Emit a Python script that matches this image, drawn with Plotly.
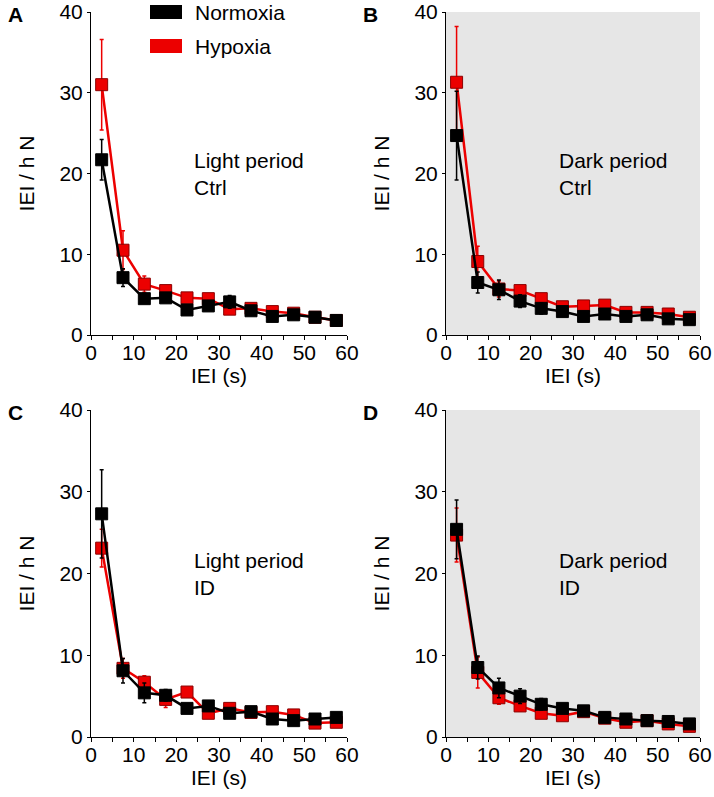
import plotly.graph_objects as go

# ---------------- data ----------------
iei = [2.5, 7.5, 12.5, 17.5, 22.5, 27.5, 32.5, 37.5, 42.5, 47.5, 52.5, 57.5]

# Panel A: Light period, Ctrl
a_norm = [21.7, 7.1, 4.5, 4.6, 3.1, 3.6, 4.1, 3.0, 2.3, 2.5, 2.2, 1.8]
a_norm_err = [2.5, 1.1, 0.5, 0.4, 0.4, 0.4, 0.8, 0.4, 0.3, 0.3, 0.2, 0.2]
a_hyp = [31.0, 10.5, 6.3, 5.5, 4.6, 4.5, 3.2, 3.3, 2.9, 2.7, 2.2, 1.8]
a_hyp_err = [5.6, 2.4, 1.0, 0.5, 0.4, 0.4, 0.4, 0.3, 0.3, 0.3, 0.2, 0.2]

# Panel B: Dark period, Ctrl
b_norm = [24.7, 6.5, 5.6, 4.2, 3.3, 2.9, 2.3, 2.6, 2.3, 2.5, 2.0, 1.9]
b_norm_err = [5.5, 1.3, 1.2, 0.8, 0.7, 0.5, 0.4, 0.4, 0.3, 0.3, 0.3, 0.2]
b_hyp = [31.3, 9.1, 5.7, 5.5, 4.5, 3.5, 3.6, 3.7, 2.8, 2.8, 2.6, 2.2]
b_hyp_err = [6.9, 1.9, 1.0, 0.5, 0.4, 0.4, 0.4, 0.4, 0.3, 0.3, 0.3, 0.2]

# Panel C: Light period, ID
c_norm = [27.3, 8.1, 5.4, 5.1, 3.5, 3.8, 2.9, 3.1, 2.2, 2.0, 2.2, 2.4]
c_norm_err = [5.4, 1.5, 1.2, 0.7, 0.4, 0.4, 0.4, 0.4, 0.3, 0.3, 0.3, 0.3]
c_hyp = [23.1, 8.4, 6.7, 4.6, 5.5, 2.9, 3.5, 3.0, 3.1, 2.7, 1.7, 1.8]
c_hyp_err = [2.3, 1.2, 0.8, 1.0, 0.4, 0.4, 0.4, 0.3, 0.3, 0.3, 0.2, 0.2]

# Panel D: Dark period, ID
d_norm = [25.4, 8.5, 6.0, 5.0, 4.0, 3.5, 3.2, 2.4, 2.2, 2.0, 1.9, 1.6]
d_norm_err = [3.6, 1.4, 1.2, 0.9, 0.7, 0.4, 0.3, 0.3, 0.2, 0.2, 0.2, 0.2]
d_hyp = [24.7, 7.9, 4.8, 3.8, 2.9, 2.6, 3.1, 2.3, 1.8, 2.0, 1.6, 1.3]
d_hyp_err = [3.3, 1.9, 0.8, 0.6, 0.4, 0.3, 0.3, 0.2, 0.2, 0.2, 0.2, 0.2]

panel_letters = ["A", "B", "C", "D"]
panel_text = ["Light period<br>Ctrl", "Dark period<br>Ctrl",
              "Light period<br>ID", "Dark period<br>ID"]
series_names = ["Normoxia", "Hypoxia"]
x_ticks = [0, 10, 20, 30, 40, 50, 60]
y_ticks = [0, 10, 20, 30, 40]

# ---------------- style ----------------
W, H = 714, 797
FONT = "Liberation Sans, Arial, sans-serif"
FS = 21
RED = "rgb(236,0,0)"
RED_EDGE = "rgb(140,0,0)"
BLACK = "rgb(0,0,0)"
GREY = "rgb(230,230,230)"

# pixel geometry of each plot area: (x0, x1, ytop, ybottom)
boxes = [(91, 347, 12, 335), (446, 700, 12, 335),
         (91, 347, 410, 737), (446, 700, 410, 737)]
grey_bg = [False, True, False, True]
text_x = [23.6, 26.3, 23.6, 26.3]

data = [
    (a_norm, a_norm_err, a_hyp, a_hyp_err),
    (b_norm, b_norm_err, b_hyp, b_hyp_err),
    (c_norm, c_norm_err, c_hyp, c_hyp_err),
    (d_norm, d_norm_err, d_hyp, d_hyp_err),
]

fig = go.Figure()
layout = dict(
    width=W, height=H,
    margin=dict(l=0, r=0, t=0, b=0, autoexpand=False),
    paper_bgcolor="white", plot_bgcolor="rgba(0,0,0,0)",
    showlegend=False,
    font=dict(family=FONT, size=FS, color="black"),
)
shapes = []
annotations = []

for i, (x0, x1, yt, yb) in enumerate(boxes):
    n = i + 1
    xs = "x" if n == 1 else f"x{n}"
    ys = "y" if n == 1 else f"y{n}"
    xk = "xaxis" if n == 1 else f"xaxis{n}"
    yk = "yaxis" if n == 1 else f"yaxis{n}"
    norm, norm_err, hyp, hyp_err = data[i]

    # Hypoxia first so Normoxia is drawn on top
    fig.add_trace(go.Scatter(
        x=iei, y=hyp, mode="lines+markers", name=series_names[1],
        xaxis=xs, yaxis=ys, cliponaxis=False,
        line=dict(color=RED, width=2.5),
        marker=dict(symbol="square", size=12, color=RED,
                    line=dict(color=RED_EDGE, width=1)),
        error_y=dict(type="data", array=hyp_err, visible=True,
                     color=RED, thickness=1.5, width=2),
    ))
    fig.add_trace(go.Scatter(
        x=iei, y=norm, mode="lines+markers", name=series_names[0],
        xaxis=xs, yaxis=ys, cliponaxis=False,
        line=dict(color=BLACK, width=2.5),
        marker=dict(symbol="square", size=12, color=BLACK,
                    line=dict(color=BLACK, width=1)),
        error_y=dict(type="data", array=norm_err, visible=True,
                     color=BLACK, thickness=1.5, width=2),
    ))

    layout[xk] = dict(
        domain=[x0 / W, x1 / W], anchor=ys, range=[0, 60], automargin=False,
        tickvals=x_ticks, ticks="outside", ticklen=4, tickwidth=1,
        tickcolor="black", showline=True, linecolor="black", linewidth=1,
        showgrid=False, zeroline=False, ticklabeloverflow="allow",
        ticklabelstandoff=-5,
        minor=dict(dtick=5, tick0=0, ticks="outside", ticklen=4,
                   tickcolor="black", showgrid=False),
        tickfont=dict(size=FS, family=FONT, color="black"),
        title=dict(text="IEI (s)", standoff=4,
                   font=dict(size=FS, family=FONT, color="black")),
    )
    layout[yk] = dict(
        domain=[1 - yb / H, 1 - yt / H], anchor=xs, range=[0, 40], automargin=False,
        tickvals=y_ticks, ticks="outside", ticklen=3, tickwidth=1,
        tickcolor="black", showline=True, linecolor="black", linewidth=1,
        showgrid=False, zeroline=False, ticklabeloverflow="allow",
        tickfont=dict(size=FS, family=FONT, color="black"),
        title=dict(text="IEI / h N", standoff=19,
                   font=dict(size=FS, family=FONT, color="black")),
    )

    if grey_bg[i]:
        shapes.append(dict(type="rect", xref=f"{xs} domain", yref=f"{ys} domain",
                           x0=0, x1=1, y0=0, y1=1, fillcolor=GREY,
                           line=dict(width=0), layer="below"))

    annotations.append(dict(
        text=panel_text[i], xref=xs, yref=ys, x=text_x[i], y=20,
        xanchor="left", yanchor="middle", align="left", showarrow=False,
        font=dict(size=FS, family=FONT, color="black"),
    ))
    annotations.append(dict(
        text=f"<b>{panel_letters[i]}</b>", xref="paper", yref="paper",
        x=(x0 - 85) / W, y=1 - (yt + 2) / H, xanchor="left", yanchor="middle",
        showarrow=False, font=dict(size=FS, family=FONT, color="black"),
    ))

# legend (drawn manually)
legend_items = [(series_names[0], BLACK, 5, 19, 12), (series_names[1], RED, 39, 53, 47)]
for name, col, top, bot, cy in legend_items:
    shapes.append(dict(type="rect", xref="paper", yref="paper",
                       x0=150 / W, x1=182 / W, y0=1 - bot / H, y1=1 - top / H,
                       fillcolor=col, line=dict(width=0)))
    annotations.append(dict(text=name, xref="paper", yref="paper",
                            x=193 / W, y=1 - cy / H, xanchor="left", yanchor="middle",
                            showarrow=False,
                            font=dict(size=FS, family=FONT, color="black")))

layout["shapes"] = shapes
layout["annotations"] = annotations
fig.update_layout(**layout)
fig.write_html("out.html",
               config={"displayModeBar": False},
               post_script="document.body.style.margin='0';"
                           "document.body.style.overflow='hidden';")
